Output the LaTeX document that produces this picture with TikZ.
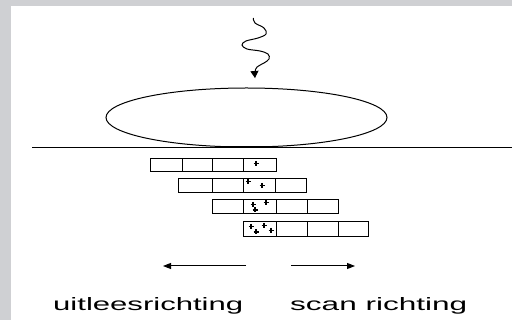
\documentclass[tikz,border=0pt]{standalone}
\usepackage{fontspec}
\setsansfont{Liberation Sans}
\usetikzlibrary{arrows.meta,shapes.geometric}
\definecolor{bggrey}{RGB}{207,208,211}
\tikzset{
  cell/.style={draw=black, line width=1.1pt, minimum height=#1, inner sep=0pt, anchor=north west},
  plus/.style={line width=1.1pt},
  dirarrow/.style={line width=1pt, -{Triangle[length=8pt,width=6pt]}},
  lbl/.style={inner sep=0pt, anchor=base west, font=\sffamily}
}
\newcommand{\plusmark}[2]{\draw[plus] (#1-2.5,#2) -- (#1+2.5,#2) (#1,#2-2.5) -- (#1,#2+2.5);}
\begin{document}
\begin{tikzpicture}[x=1pt,y=-1pt]
\useasboundingbox (0,0) rectangle (512,320);
\fill[bggrey] (0,0) rectangle (512,320);
\fill[white] (11,6) rectangle (512,320);
% wavy photon
\draw[line width=1pt, -{Triangle[length=7pt,width=8pt]}] plot[smooth, tension=0.6] coordinates {
 (253.3,18) (255,23) (264,28) (266,34) (258,38) (246,41) (242,45) (247,49) (260,51) (268,54) (269,59) (264,63) (257,67) (255,72) (255,78)};
% ellipse
\node[draw, ellipse, line width=1pt, minimum width=281pt, minimum height=59pt, inner sep=0pt] (lens) at (246.5,117.5) {};
% surface line
\coordinate (surfL) at (32,148);
\coordinate (surfR) at (512,148);
\draw[line width=1pt] (surfL) -- (surfR);
\draw[line width=2pt] (217,147.5) -- (277,147.5);
% rows of cells
\foreach \r/\y/\h/\xa/\xb/\xc/\xd/\xe in {1/158/13/150/182/212/243/276, 2/178/14/178/212/243/275/306, 3/199/14/212/243/276/307/338, 4/221/15/243/276/307/338/368}{
  \node[cell=\h pt, minimum width={(\xb-\xa)*1pt}] (c\r a) at (\xa,\y) {};
  \node[cell=\h pt, minimum width={(\xc-\xb)*1pt}] (c\r b) at (\xb,\y) {};
  \node[cell=\h pt, minimum width={(\xd-\xc)*1pt}] (c\r c) at (\xc,\y) {};
  \node[cell=\h pt, minimum width={(\xe-\xd)*1pt}] (c\r d) at (\xd,\y) {};
}
% plus marks
\plusmark{256}{163.5}
\plusmark{248}{181.5}
\plusmark{262}{185.5}
\plusmark{253}{204.5}
\plusmark{266}{202.5}
\plusmark{255}{210}
\plusmark{251}{226.5}
\plusmark{264}{225.5}
\plusmark{256}{232}
\plusmark{271}{230.5}
% direction arrows
\coordinate (la) at (246,266);
\coordinate (lb) at (163,266);
\coordinate (ra) at (291,266);
\coordinate (rb) at (355,266);
\draw[dirarrow] (la) -- (lb);
\draw[dirarrow] (ra) -- (rb);
% labels
\node[lbl] (uit) at (53,311) {\resizebox{190pt}{13pt}{uitleesrichting}};
\node[lbl] (scan) at (290,311) {\resizebox{177pt}{13pt}{scan richting}};
\end{tikzpicture}
\end{document}
